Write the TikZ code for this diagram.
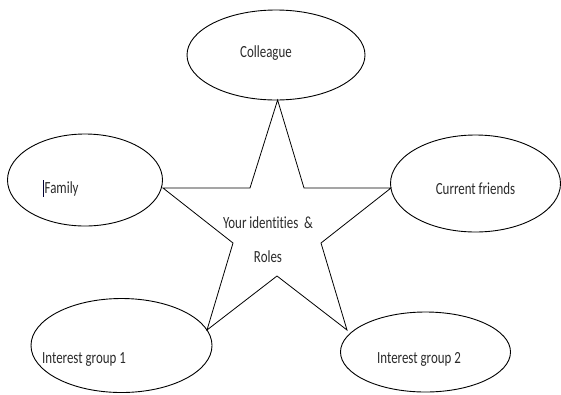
\documentclass[tikz,border=0pt]{standalone}
\usepackage{fontspec}
\newfontfamily\calfont[FakeStretch=0.76,Ligatures=NoCommon]{Carlito}
\usetikzlibrary{shapes.geometric}
\definecolor{txt}{HTML}{2A2A2A}
\tikzset{
  bubble/.style={draw=black, line width=0.9pt, ellipse, inner sep=0pt},
  lbl/.style={text=txt, font=\calfont\fontsize{17}{20}\selectfont, inner sep=0pt},
  starline/.style={draw=black, line width=0.8pt, line join=miter}
}
\begin{document}
\begin{tikzpicture}[x=1pt,y=-1pt]
\useasboundingbox (0,0) rectangle (561,394);
% ellipses
\node[bubble, minimum width=178pt, minimum height=90pt] (colleague) at (276,55) {};
\node[bubble, minimum width=155pt, minimum height=92pt] (family) at (85,180) {};
\node[bubble, minimum width=170pt, minimum height=97pt] (friends) at (475.5,183.5) {};
\node[bubble, minimum width=181pt, minimum height=94pt] (ig1) at (121.5,345.5) {};
\node[bubble, minimum width=170pt, minimum height=80pt] (ig2) at (425.5,352) {};
% star points
\coordinate (sTop) at (277.6,100);
\coordinate (sTR) at (304,188);
\coordinate (sR) at (391,188);
\coordinate (sRI) at (321,243);
\coordinate (sBR) at (347,330);
\coordinate (sBI) at (277,276);
\coordinate (sBL) at (207,330);
\coordinate (sLI) at (233,243);
\coordinate (sL) at (163,188);
\coordinate (sTL) at (250,188);
\draw[starline] (sTop) -- (sTR) -- (sR) -- (sRI) -- (sBR) -- (sBI) -- (sBL) -- (sLI) -- (sL) -- (sTL) -- cycle;
% labels
\node[lbl] (tcol) at (266,53) {Colleague};
\node[lbl, anchor=west] (tfam) at (44.5,189) {Family};
\draw[line width=0.9pt, color=black!80!blue] (43.6,180) -- (43.6,197);
\node[lbl] (tfr) at (475.5,189) {Current friends};
\node[lbl] (tyi) at (268,223) {Your identities \,\&};
\node[lbl] (trol) at (268,257) {Roles};
\node[lbl] (tig1) at (84,359) {Interest group 1};
\node[lbl] (tig2) at (419,359) {Interest group 2};
\end{tikzpicture}
\end{document}
